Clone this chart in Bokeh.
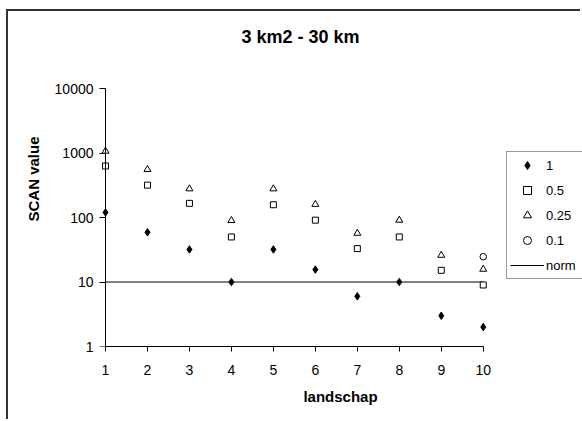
import math
from bokeh.plotting import figure
from bokeh.models import (FixedTicker, PrintfTickFormatter, Legend, LegendItem, Range1d,
                          Label, LogAxis)
from bokeh.embed import file_html
from bokeh.resources import INLINE

NaN = math.nan

# ---- data ----
landschap = [1, 2, 3, 4, 5, 6, 7, 8, 9, 10]
scan_1 = [120, 59, 32, 10, 32, 15.6, 6.0, 10, 3.0, 2.0]
scan_05 = [630, 318, 166, 50, 158, 91, 33, 50, 15.2, 9.0]
scan_025 = [1070, 557, 279, 90, 279, 160, 57, 91, 26, 15.8]
scan_01 = [NaN, NaN, NaN, NaN, NaN, NaN, NaN, NaN, NaN, 24.7]
norm = [10, 10, 10, 10, 10, 10, 10, 10, 10, 10]
y_ticks = [1, 10, 100, 1000, 10000]
x_ticks = landschap
title_text = "3 km2 - 30 km"

FONT = "Liberation Sans"

# frame spans the top and right of the canvas; axes are bounded to the data span
p = figure(width=574, height=410, y_axis_type="log",
           x_range=Range1d(0.833, 12.365), y_range=Range1d(1, 156900),
           output_backend="svg", toolbar_location=None,
           min_border_left=90, min_border_right=0,
           min_border_top=0, min_border_bottom=75)
p.styles = {"margin-left": "6px", "margin-top": "9px",
            "border-left": "2px solid #333333", "border-top": "2px solid #333333"}

p.grid.visible = False
p.outline_line_color = None
p.background_fill_color = "white"
p.border_fill_color = "white"

# x axis
xa = p.xaxis[0]
xa.ticker = FixedTicker(ticks=x_ticks)
xa.bounds = (1, 10)
xa.axis_line_color = "black"
xa.major_tick_line_color = "black"
xa.minor_tick_line_color = None
xa.major_tick_in = 0
xa.major_tick_out = 5
xa.major_label_standoff = 13
xa.major_label_text_font = FONT
xa.major_label_text_font_size = "14px"
xa.major_label_text_color = "black"
xa.axis_label = "landschap"
xa.axis_label_standoff = 10
xa.axis_label_text_font = FONT
xa.axis_label_text_font_size = "15px"
xa.axis_label_text_font_style = "bold"
xa.axis_label_text_color = "black"

# y axis line + ticks, sitting at landschap = 1
ya = p.yaxis[0]
ya.ticker = FixedTicker(ticks=y_ticks)
ya.bounds = (1, 10000)
ya.fixed_location = 1
ya.axis_line_color = "black"
ya.major_tick_line_color = "black"
ya.minor_tick_line_color = None
ya.major_tick_in = 0
ya.major_tick_out = 6
ya.major_label_text_color = None
ya.major_label_text_font_size = "14px"

# y axis tick labels + title, in the left panel
yl = LogAxis(ticker=FixedTicker(ticks=y_ticks),
             formatter=PrintfTickFormatter(format="%d"),
             bounds=(1, 10000),
             axis_line_color=None, major_tick_line_color=None,
             minor_tick_line_color=None,
             major_tick_in=0, major_tick_out=0, major_label_standoff=5,
             major_label_text_font=FONT, major_label_text_font_size="14px",
             major_label_text_color="black",
             axis_label="SCAN value", axis_label_standoff=10,
             axis_label_text_font=FONT, axis_label_text_font_size="15px",
             axis_label_text_font_style="bold", axis_label_text_color="black")
p.add_layout(yl, "left")

# series
r_norm = p.line(landschap, norm, line_color="black", line_width=1)
r1 = p.scatter(landschap, scan_1, marker="diamond", size=7.5,
               fill_color="black", line_color="black", line_width=1)
r05 = p.scatter(landschap, scan_05, marker="square", size=6,
                fill_color="white", line_color="black", line_width=1)
r025 = p.scatter(landschap, scan_025, marker="triangle", size=7,
                 fill_color="white", line_color="black", line_width=1)
r01 = p.scatter(landschap, scan_01, marker="circle", size=6.5,
                fill_color="white", line_color="black", line_width=1)

title = Label(x=202, y=310, x_units="screen", y_units="screen", text=title_text,
              text_align="center", text_baseline="middle",
              text_font=FONT, text_font_size="18px", text_font_style="bold",
              text_color="black")
p.add_layout(title)

legend = Legend(items=[
    LegendItem(label="1", renderers=[r1]),
    LegendItem(label="0.5", renderers=[r05]),
    LegendItem(label="0.25", renderers=[r025]),
    LegendItem(label="0.1", renderers=[r01]),
    LegendItem(label="norm", renderers=[r_norm]),
], location=(408, 67))
legend.label_text_font = FONT
legend.label_text_font_size = "13px"
legend.label_text_color = "black"
legend.glyph_height = 20
legend.label_height = 20
legend.glyph_width = 34
legend.label_width = 60
legend.spacing = 5
legend.padding = 3
legend.margin = 0
legend.label_standoff = 2
legend.border_line_color = "#333333"
legend.border_line_width = 1
legend.background_fill_color = "white"
legend.background_fill_alpha = 1
p.add_layout(legend)

open("out.html", "w").write(file_html(p, INLINE))
